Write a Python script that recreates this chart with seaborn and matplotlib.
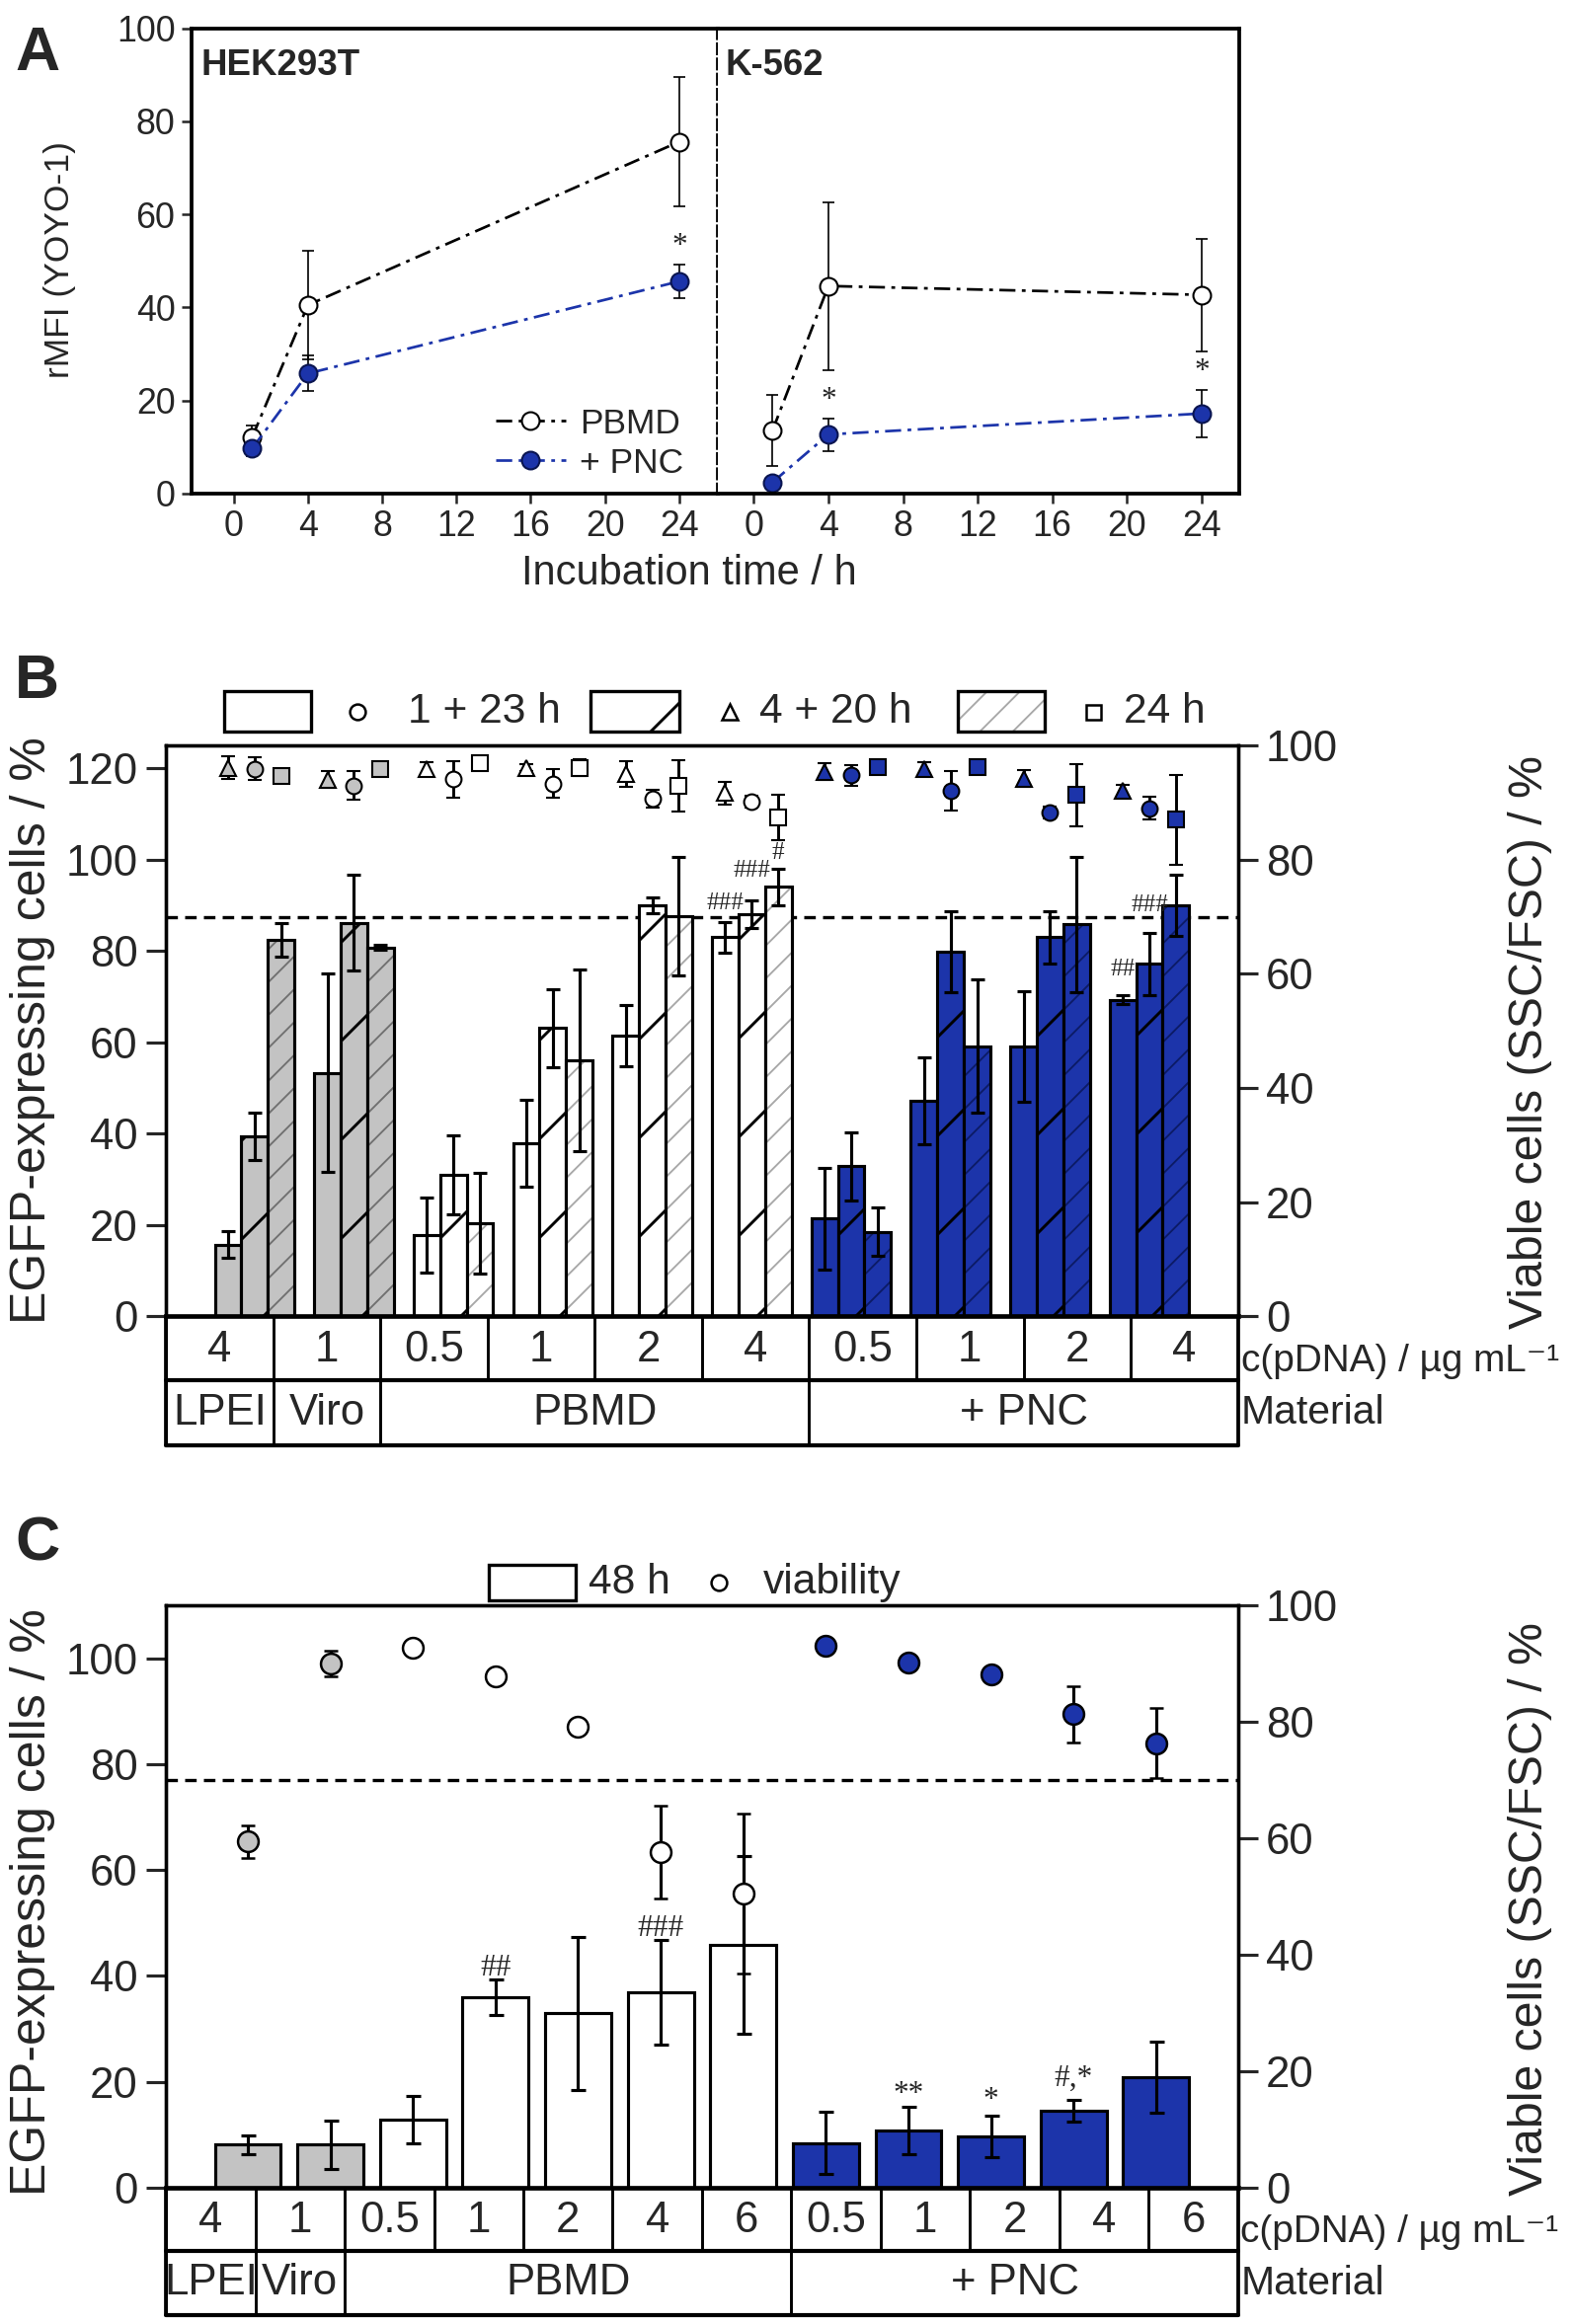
import matplotlib
matplotlib.use("Agg")
import matplotlib.pyplot as plt
from matplotlib.patches import Rectangle
from matplotlib.lines import Line2D
import seaborn as sns
import pandas as pd
import numpy as np

# ---------------- data: panel A (rMFI, YOYO-1) ----------------
time_h = [1, 4, 24]
hek_pbmd = [12.1, 40.5, 75.6]
hek_pbmd_err = [2.5, 11.7, 13.9]
hek_pnc = [9.7, 25.8, 45.6]
hek_pnc_err = [1.6, 3.8, 3.7]
k562_pbmd = [13.5, 44.6, 42.7]
k562_pbmd_err = [7.6, 18.0, 12.1]
k562_pnc = [2.4, 12.7, 17.2]
k562_pnc_err = [0.5, 3.5, 5.1]

# ---------------- data: panel B ----------------
b_conc = ["4", "1", "0.5", "1", "2", "4", "0.5", "1", "2", "4"]
b_material = ["LPEI", "Viro", "PBMD", "PBMD", "PBMD", "PBMD",
              "+ PNC", "+ PNC", "+ PNC", "+ PNC"]
b_times = ["1 + 23 h", "4 + 20 h", "24 h"]
b_egfp_1_23 = [15.7, 53.3, 17.8, 37.9, 61.5, 83.0, 21.4, 47.1, 59.1, 69.3]
b_err_1_23 = [3.0, 21.7, 8.2, 9.5, 6.7, 3.4, 11.1, 9.5, 12.1, 1.0]
b_egfp_4_20 = [39.4, 86.2, 30.9, 63.1, 90.0, 88.0, 32.8, 79.8, 83.0, 77.2]
b_err_4_20 = [5.2, 10.4, 8.6, 8.6, 1.7, 3.0, 7.5, 8.9, 5.8, 6.8]
b_egfp_24 = [82.4, 80.8, 20.3, 56.0, 87.6, 94.0, 18.5, 59.1, 85.8, 90.0]
b_err_24 = [3.6, 0.6, 11.0, 19.9, 12.9, 4.1, 5.3, 14.6, 14.9, 6.8]
# viability (right axis)
b_via_tri = [96.1, 94.0, 95.8, 96.1, 95.0, 91.7, 95.4, 95.8, 94.2, 92.1]
b_via_tri_err = [2.0, 1.5, 1.2, 0.6, 2.2, 2.0, 1.5, 1.2, 1.5, 1.0]
b_via_cir = [95.9, 93.0, 94.1, 93.3, 90.7, 90.2, 94.8, 92.1, 88.3, 89.0]
b_via_cir_err = [2.0, 2.5, 3.2, 2.5, 1.5, 1.0, 1.8, 3.5, 1.0, 2.0]
b_via_sq = [94.6, 95.8, 96.9, 96.1, 93.0, 87.4, 96.3, 96.3, 91.3, 87.0]
b_via_sq_err = [1.0, 1.0, 1.0, 1.5, 4.5, 4.0, 1.0, 1.0, 5.5, 7.9]
# significance marks: (group, time index, text, y)
b_marks = [(5, 0, "###", 90.5), (5, 1, "###", 97.5), (5, 2, "#", 101.5),
           (9, 0, "##", 76.0), (9, 1, "###", 90.0)]

# ---------------- data: panel C ----------------
c_conc = ["4", "1", "0.5", "1", "2", "4", "6", "0.5", "1", "2", "4", "6"]
c_material = ["LPEI", "Viro"] + ["PBMD"] * 5 + ["+ PNC"] * 5
c_egfp = [8.1, 8.1, 12.8, 36.0, 32.9, 36.9, 45.8, 8.4, 10.8, 9.7, 14.5, 20.9]
c_err = [1.8, 4.6, 4.5, 3.4, 14.5, 9.8, 16.8, 5.9, 4.5, 3.9, 2.1, 6.7]
c_via = [59.4, 89.9, 92.7, 87.7, 79.1, 57.6, 50.5, 93.0, 90.1, 88.1, 81.3, 76.3]
c_via_err = [2.8, 2.2, 0.8, 1.0, 1.0, 8.0, 13.8, 0.6, 0.6, 1.0, 4.8, 6.0]
c_marks = [(3, "##", 41.5), (5, "###", 49.0), (8, "**", 17.6),
           (9, "*", 16.5), (10, "#,*", 20.7)]

# ---------------- style ----------------
sns.set_style("ticks")
plt.rcParams["font.family"] = ["Liberation Sans", "DejaVu Sans"]
plt.rcParams["hatch.linewidth"] = 0.7
SERIF = ["Liberation Serif", "DejaVu Serif"]

blue = "#1c34aa"
grey = "#c3c3c3"
fill = {"LPEI": grey, "Viro": grey, "PBMD": "white", "+ PNC": blue}
hatch_col = {"LPEI": "#707070", "Viro": "#707070", "PBMD": "#a8a8a8", "+ PNC": "#0c1b66"}
dashdot = (0, (6, 2.4, 1.4, 2.4))

W, H = 1061, 1568  # layout grid in reference pixels


def box(x0, y0, x1, y1):
    return [x0 / W, 1 - y1 / H, (x1 - x0) / W, (y1 - y0) / H]


def spans(labels):
    out, start = [], 0
    for i in range(1, len(labels) + 1):
        if i == len(labels) or labels[i] != labels[start]:
            out.append((start, i - 1, labels[start]))
            start = i
    return out


def frame(ax, lw=0.8):
    for s in ax.spines.values():
        s.set_linewidth(lw)
        s.set_color("black")


def draw_table(rect, conc, material):
    tab = fig.add_axes(rect)
    n = len(conc)
    tab.set_xlim(-0.5, n - 0.5)
    tab.set_ylim(2, 0)
    tab.axis("off")
    for i, c in enumerate(conc):
        tab.text(i, 0.52, c, ha="center", va="center", fontsize=10.5)
        tab.plot([i - 0.5, i - 0.5], [0, 1], color="black", lw=0.7, clip_on=False)
    tab.plot([n - 0.5, n - 0.5], [0, 2], color="black", lw=0.9, clip_on=False)
    tab.plot([-0.5, -0.5], [0, 2], color="black", lw=0.9, clip_on=False)
    for s, e, lab in spans(material):
        tab.text((s + e) / 2, 1.5, lab, ha="center", va="center", fontsize=10.5)
        tab.plot([s - 0.5, s - 0.5], [1, 2], color="black", lw=0.7, clip_on=False)
    for yy in (1, 2):
        tab.plot([-0.5, n - 0.5], [yy, yy], color="black", lw=1.0, clip_on=False)
    tab.text(n - 0.5 + 0.03, 0.7, "c(pDNA) / µg mL⁻¹", ha="left", va="center", fontsize=9.3)
    tab.text(n - 0.5 + 0.03, 1.5, "Material", ha="left", va="center", fontsize=9.8)


fig = plt.figure(figsize=(1593 / 300, 2354 / 300), dpi=300)

# ================= Panel A =================
axL = fig.add_axes(box(129, 19, 484, 333))
axR = fig.add_axes(box(484, 19, 836, 333), sharey=axL)
axL.set_xlim(-2.28, 26.06)
axR.set_xlim(-1.94, 26.03)
axL.set_ylim(0, 100)

series_a = [
    (axL, hek_pbmd, hek_pbmd_err, hek_pnc, hek_pnc_err, [24]),
    (axR, k562_pbmd, k562_pbmd_err, k562_pnc, k562_pnc_err, [4, 24]),
]
for ax, pb, pbe, pn, pne, stars in series_a:
    ax.errorbar(time_h, pb, yerr=pbe, fmt="none", ecolor="black",
                elinewidth=0.4, capsize=1.4, capthick=0.4, zorder=1)
    ax.errorbar(time_h, pn, yerr=pne, fmt="none", ecolor="black",
                elinewidth=0.4, capsize=1.4, capthick=0.4, zorder=1)
    sns.lineplot(x=time_h, y=pb, color="black", linestyle=dashdot, linewidth=0.65,
                 marker="o", markersize=4.3, markerfacecolor="white",
                 markeredgecolor="black", markeredgewidth=0.5, errorbar=None, ax=ax)
    sns.lineplot(x=time_h, y=pn, color=blue, linestyle=dashdot, linewidth=0.65,
                 marker="o", markersize=4.3, markerfacecolor=blue,
                 markeredgecolor="#0a1550", markeredgewidth=0.5, errorbar=None, ax=ax)
    for t in stars:
        i = time_h.index(t)
        ax.text(t, pn[i] + pne[i] + 0.8, "*", ha="center", va="bottom",
                fontsize=7.5, family=SERIF)
    ax.set_xticks(range(0, 25, 4))
    ax.tick_params(axis="both", direction="out", length=2.4, width=0.6,
                   labelsize=8.6, pad=1.5)
    frame(ax, 0.9)

axL.set_yticks(range(0, 101, 20))
axL.spines["right"].set_linestyle((0, (2.5, 1.6)))
axL.spines["right"].set_linewidth(0.9)
axR.spines["left"].set_visible(False)
axR.tick_params(axis="y", left=False, labelleft=False)
axL.text(-1.75, 92.0, "HEK293T", fontsize=8.8, fontweight="bold", va="center")
axR.text(-1.55, 92.0, "K-562", fontsize=8.8, fontweight="bold", va="center")

leg_handles = [
    Line2D([0], [0], color="black", ls=dashdot, lw=0.65, marker="o", ms=4.3,
           mfc="white", mec="black", mew=0.5),
    Line2D([0], [0], color=blue, ls=dashdot, lw=0.65, marker="o", ms=4.3,
           mfc=blue, mec="#0a1550", mew=0.5),
]
axL.legend(leg_handles, ["PBMD", "+ PNC"], loc="lower right", bbox_to_anchor=(0.975, -0.015),
           frameon=False, prop={"size": 8.5}, handlelength=2.0,
           handletextpad=0.4, labelspacing=0.2, borderaxespad=0.2)

# ================= Panel B =================
grp_b = [f"{m} {c}" for m, c in zip(b_material, b_conc)]
dfB = pd.DataFrame({
    "group": grp_b * 3,
    "time": np.repeat(b_times, len(grp_b)),
    "egfp": b_egfp_1_23 + b_egfp_4_20 + b_egfp_24,
})
axB = fig.add_axes(box(112, 503, 835, 888))
sns.barplot(data=dfB, x="group", y="egfp", hue="time", order=grp_b, hue_order=b_times,
            palette={t: "white" for t in b_times}, width=0.8, gap=0, errorbar=None,
            legend=False, edgecolor="black", linewidth=0.75, ax=axB)

b_centers = []
for k, cont in enumerate(axB.containers):
    bars = sorted(cont.patches, key=lambda p: p.get_x())
    xs = []
    for g, p in enumerate(bars):
        mat = b_material[g]
        p.set_facecolor(fill[mat])
        if k == 1:
            p.set_hatch("/")
        elif k == 2:
            p.set_hatch("///")
            p.set_edgecolor(hatch_col[mat])
            p.set_linewidth(0)
            if hasattr(p, "set_hatch_linewidth"):
                p.set_hatch_linewidth(0.45)
            axB.add_patch(Rectangle((p.get_x(), 0), p.get_width(), p.get_height(),
                                    fill=False, edgecolor="black", lw=0.75, zorder=1.2))
        xs.append(p.get_x() + p.get_width() / 2)
    b_centers.append(xs)

for xs, vals, errs in zip(b_centers, [b_egfp_1_23, b_egfp_4_20, b_egfp_24],
                          [b_err_1_23, b_err_4_20, b_err_24]):
    axB.errorbar(xs, vals, yerr=errs, fmt="none", ecolor="black", elinewidth=0.75,
                 capsize=1.7, capthick=0.75, zorder=5)

for g, k, txt, yy in b_marks:
    axB.text(b_centers[k][g], yy, txt, ha="center", va="center", fontsize=6, family=SERIF, zorder=6)

axB.axhline(70 * 1.25, color="black", lw=0.8, ls=(0, (3.5, 2.2)), zorder=0.5)
axB.set_ylim(0, 125)
axB.set_yticks(range(0, 121, 20))
axB.set_xlabel("")
axB.set_ylabel("")
axB.tick_params(axis="x", bottom=False, labelbottom=False)
axB.tick_params(axis="y", direction="out", length=4.8, width=0.75, labelsize=10.5, pad=2)
frame(axB, 0.8)
axB.spines["bottom"].set_linewidth(1.1)

axBr = axB.twinx()
axBr.set_ylim(0, 100)
axBr.set_yticks(range(0, 101, 20))
axBr.tick_params(axis="y", direction="out", length=4.8, width=0.75, labelsize=10.5, pad=2)
frame(axBr, 0.8)
for xs, vals, errs, m in zip(b_centers, [b_via_tri, b_via_cir, b_via_sq],
                             [b_via_tri_err, b_via_cir_err, b_via_sq_err], ["^", "o", "s"]):
    for g in range(len(grp_b)):
        axBr.errorbar(xs[g], vals[g], yerr=errs[g], fmt=m, ms=3.8, mfc=fill[b_material[g]],
                      mec="black", mew=0.5, ecolor="black", elinewidth=0.7,
                      capsize=1.6, capthick=0.7, zorder=4)

draw_table(box(112, 888, 835, 975), b_conc, b_material)

# ================= Panel C =================
grp_c = [f"{m} {c}" for m, c in zip(c_material, c_conc)]
dfC = pd.DataFrame({"group": grp_c, "egfp": c_egfp})
axC = fig.add_axes(box(112, 1083, 835, 1476))
sns.barplot(data=dfC, x="group", y="egfp", order=grp_c, color="white", width=0.8,
            errorbar=None, edgecolor="black", linewidth=0.75, ax=axC)
bars_c = sorted(axC.patches, key=lambda p: p.get_x())
c_centers = []
for g, p in enumerate(bars_c):
    p.set_facecolor(fill[c_material[g]])
    c_centers.append(p.get_x() + p.get_width() / 2)
axC.errorbar(c_centers, c_egfp, yerr=c_err, fmt="none", ecolor="black", elinewidth=0.75,
             capsize=1.8, capthick=0.75, zorder=5)
for g, txt, yy in c_marks:
    axC.text(c_centers[g], yy, txt, ha="center", va="center", fontsize=7.5, family=SERIF, zorder=6)
axC.axhline(70 * 1.1, color="black", lw=0.8, ls=(0, (3.5, 2.2)), zorder=0.5)
axC.set_ylim(0, 110)
axC.set_yticks(range(0, 101, 20))
axC.set_xlabel("")
axC.set_ylabel("")
axC.tick_params(axis="x", bottom=False, labelbottom=False)
axC.tick_params(axis="y", direction="out", length=4.8, width=0.75, labelsize=10.5, pad=2)
frame(axC, 0.8)
axC.spines["bottom"].set_linewidth(1.1)

axCr = axC.twinx()
axCr.set_ylim(0, 100)
axCr.set_yticks(range(0, 101, 20))
axCr.tick_params(axis="y", direction="out", length=4.8, width=0.75, labelsize=10.5, pad=2)
frame(axCr, 0.8)
for g in range(len(grp_c)):
    axCr.errorbar(c_centers[g], c_via[g], yerr=c_via_err[g], fmt="o", ms=5, mfc=fill[c_material[g]],
                  mec="black", mew=0.6, ecolor="black", elinewidth=0.75,
                  capsize=1.6, capthick=0.75, zorder=4)

draw_table(box(112, 1476, 835, 1562), c_conc, c_material)

# ================= overlay: letters, labels, legends =================
ov = fig.add_axes([0, 0, 1, 1])
ov.set_xlim(0, W)
ov.set_ylim(H, 0)
ov.axis("off")

for lab, yy in [("A", 36), ("B", 460), ("C", 1042)]:
    ov.text(10, yy, lab, fontsize=15, fontweight="bold", ha="left", va="center")

ov.text(465, 387, "Incubation time / h", ha="center", va="center", fontsize=10)
ov.text(40, 175, "rMFI (YOYO-1)", ha="center", va="center", rotation=90, fontsize=8.5)
for yl_left, yl_right in [(695, 703), (1283, 1288)]:
    ov.text(22, yl_left, "EGFP-expressing cells / %", ha="center", va="center",
            rotation=90, fontsize=12)
    ov.text(1032, yl_right, "Viable cells (SSC/FSC) / %", ha="center", va="center",
            rotation=90, fontsize=11.6)

# legend B
yl = 480
ov.add_patch(Rectangle((151, yl - 13.5), 59, 27, facecolor="white", edgecolor="black", lw=0.8))
ov.plot(241, yl, marker="o", ms=3.8, mfc="white", mec="black", mew=0.6)
ov.text(275, yl, b_times[0], ha="left", va="center", fontsize=10.2)
ov.add_patch(Rectangle((398, yl - 13.5), 60, 27, facecolor="white", edgecolor="black",
                       lw=0.8, hatch="/"))
ov.plot(492, yl, marker="^", ms=3.8, mfc="white", mec="black", mew=0.6)
ov.text(512, yl, b_times[1], ha="left", va="center", fontsize=10.2)
hp = Rectangle((646, yl - 13.5), 59, 27, facecolor="white", edgecolor=hatch_col["PBMD"],
               lw=0, hatch="///")
if hasattr(hp, "set_hatch_linewidth"):
    hp.set_hatch_linewidth(0.45)
ov.add_patch(hp)
ov.add_patch(Rectangle((646, yl - 13.5), 59, 27, fill=False, edgecolor="black", lw=0.8))
ov.plot(737, yl, marker="s", ms=3.6, mfc="white", mec="black", mew=0.6)
ov.text(758, yl, b_times[2], ha="left", va="center", fontsize=10.2)

# legend C
yc = 1068
ov.add_patch(Rectangle((330, yc - 12), 58, 24, facecolor="white", edgecolor="black", lw=0.8))
ov.text(397, yc, "48 h", ha="left", va="center", fontsize=10.2)
ov.plot(485, yc, marker="o", ms=3.8, mfc="white", mec="black", mew=0.6)
ov.text(515, yc, "viability", ha="left", va="center", fontsize=10.2)

fig.savefig("out.png", dpi=300)
